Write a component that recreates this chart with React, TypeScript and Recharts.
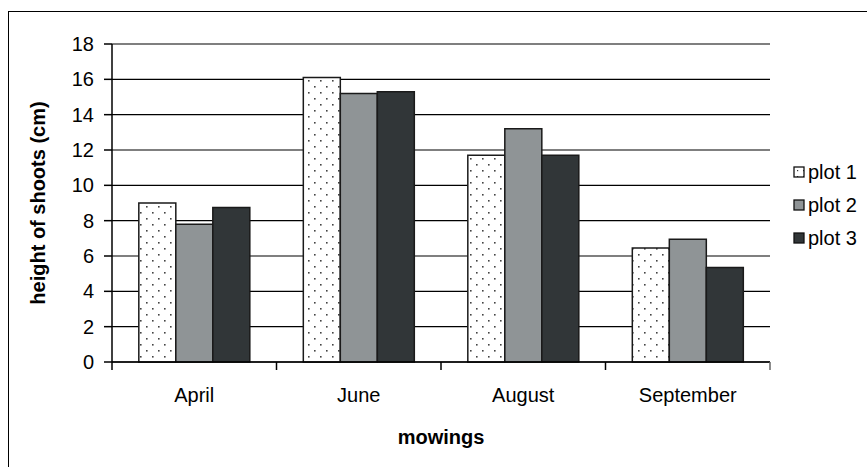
import { BarChart, Bar, XAxis, YAxis, CartesianGrid, Legend } from 'recharts'

const months = ['April', 'June', 'August', 'September']
const plot1 = [9.0, 16.1, 11.7, 6.45]
const plot2 = [7.8, 15.2, 13.2, 6.95]
const plot3 = [8.75, 15.3, 11.7, 5.35]
const yTicks = [0, 2, 4, 6, 8, 10, 12, 14, 16, 18]

const series = [
  { key: 'plot1', name: 'plot 1', fill: 'url(#dots)' },
  { key: 'plot2', name: 'plot 2', fill: '#8f9496' },
  { key: 'plot3', name: 'plot 3', fill: '#313638' },
]

const data = months.map((m, i) => ({ month: m, plot1: plot1[i], plot2: plot2[i], plot3: plot3[i] }))

const W = 867
const H = 467
const margin = { top: 44, right: 97, bottom: 65, left: 52 }
const yAxisWidth = 60
const plotWidth = W - margin.left - yAxisWidth - margin.right
const band = plotWidth / months.length
const tickSize = 8
const tickMargin = 18
const font = '"Liberation Sans", Arial, sans-serif'
const fs = 20

function MonthTick(props: any) {
  const { x, y, payload } = props
  const axisY = y - tickSize - tickMargin
  const last = payload.index === months.length - 1
  return (
    <g>
      <line x1={x - band / 2} x2={x - band / 2} y1={axisY} y2={axisY + tickSize} stroke="#000" strokeWidth={1.5} />
      {last && (
        <line x1={x + band / 2} x2={x + band / 2} y1={axisY} y2={axisY + tickSize} stroke="#666" strokeWidth={1.5} />
      )}
      <text x={x} y={y} dy="0.71em" textAnchor="middle" fontSize={fs} fill="#000" fontFamily={font}>
        {payload.value}
      </text>
    </g>
  )
}

function LegendBox() {
  return (
    <div style={{ fontFamily: font, fontSize: fs, color: '#000', lineHeight: 1 }}>
      {series.map((s) => (
        <div key={s.key} style={{ display: 'flex', alignItems: 'center', height: 33 }}>
          <svg width={12} height={12} style={{ marginRight: 3 }}>
            <defs>
              <pattern id="ldots" width={6} height={6} patternUnits="userSpaceOnUse">
                <rect width={6} height={6} fill="#fff" />
                <rect x={4} y={4} width={1.2} height={1.2} fill="#333" />
              </pattern>
            </defs>
            <rect x={1} y={1} width={10} height={10} fill={s.key === 'plot1' ? 'url(#ldots)' : s.fill} stroke="#111" strokeWidth={1.3} />
          </svg>
          <span>{s.name}</span>
        </div>
      ))}
    </div>
  )
}

export default function App() {
  return (
    <div style={{ position: 'absolute', left: 0, top: 0, width: W, height: H, overflow: 'hidden', background: '#fff' }}>
      <div
        style={{
          position: 'absolute',
          left: 8,
          top: 11,
          right: -10,
          bottom: -10,
          borderLeft: '1.5px solid #000',
          borderTop: '1.5px solid #000',
        }}
      />
      <BarChart
        width={W}
        height={H}
        data={data}
        margin={margin}
        barCategoryGap="16.3%"
        barGap={0}
        style={{ position: 'absolute', left: 0, top: 0 }}
      >
        <defs>
          <pattern id="dots" width={12} height={12} patternUnits="userSpaceOnUse">
            <rect width={12} height={12} fill="#fff" />
            <rect x={2} y={2} width={1.6} height={1.6} fill="#444" />
            <rect x={8} y={8} width={1.6} height={1.6} fill="#444" />
          </pattern>
        </defs>
        <CartesianGrid vertical={false} stroke="#000" strokeWidth={1.2} />
        <XAxis
          dataKey="month"
          height={40}
          axisLine={{ stroke: '#000', strokeWidth: 1.5 }}
          tickLine={false}
          tickSize={tickSize}
          tickMargin={tickMargin}
          tick={<MonthTick />}
          interval={0}
        />
        <YAxis
          width={yAxisWidth}
          domain={[0, 18]}
          ticks={yTicks}
          interval={0}
          axisLine={{ stroke: '#000', strokeWidth: 1.5 }}
          tickLine={{ stroke: '#000', strokeWidth: 1.5 }}
          tickSize={8}
          tickMargin={10}
          tick={{ fontSize: fs, fill: '#000', fontFamily: font }}
        />
        <YAxis
          yAxisId="right"
          orientation="right"
          width={0}
          domain={[0, 18]}
          tick={false}
          tickLine={false}
          axisLine={{ stroke: '#555', strokeWidth: 2 }}
        />
        {series.map((s) => (
          <Bar
            key={s.key}
            dataKey={s.key}
            name={s.name}
            fill={s.fill}
            stroke="#1a1a1a"
            strokeWidth={1.5}
            isAnimationActive={false}
          />
        ))}
        <Legend
          layout="vertical"
          align="center"
          verticalAlign="middle"
          content={<LegendBox />}
          wrapperStyle={{ position: 'absolute', left: 793, top: 155, width: 74 }}
        />
      </BarChart>
      <div
        style={{
          position: 'absolute',
          left: 38,
          top: 203,
          transform: 'translate(-50%, -50%) rotate(-90deg)',
          whiteSpace: 'nowrap',
          fontFamily: font,
          fontWeight: 'bold',
          fontSize: fs,
        }}
      >
        height of shoots (cm)
      </div>
      <div
        style={{
          position: 'absolute',
          left: 441,
          top: 437,
          transform: 'translate(-50%, -50%)',
          whiteSpace: 'nowrap',
          fontFamily: font,
          fontWeight: 'bold',
          fontSize: fs,
        }}
      >
        mowings
      </div>
    </div>
  )
}
